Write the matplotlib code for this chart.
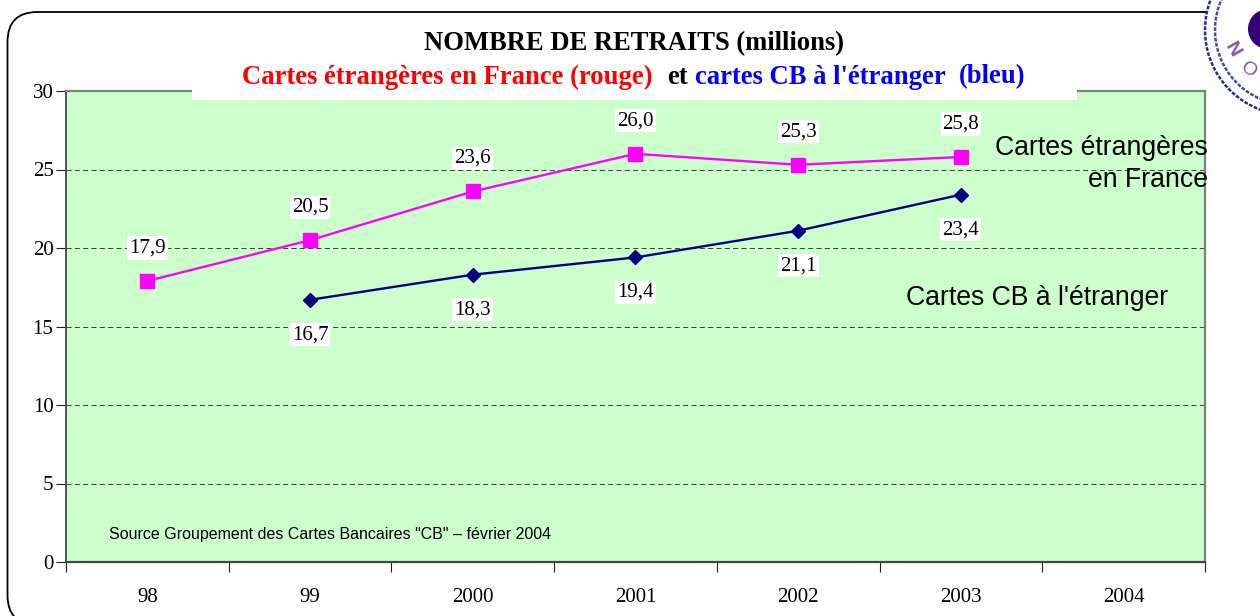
import matplotlib
matplotlib.use('Agg')
import matplotlib.pyplot as plt
from matplotlib.patches import FancyBboxPatch, Rectangle, Arc, Circle

categories = ['98', '99', '2000', '2001', '2002', '2003', '2004']
etrangeres = [17.9, 20.5, 23.6, 26.0, 25.3, 25.8, None]
cb = [None, 16.7, 18.3, 19.4, 21.1, 23.4, None]
yticks = [0, 5, 10, 15, 20, 25, 30]
W, H = 1260, 616
SERIF = 'Liberation Serif'
SANS = 'Liberation Sans'
FS = 15

fig = plt.figure(figsize=(W/100, H/100), dpi=100, facecolor='white')
bg = fig.add_axes([0, 0, 1, 1], zorder=0)
bg.set_xlim(0, W); bg.set_ylim(H, 0); bg.axis('off')
bg.add_patch(FancyBboxPatch((7.5, 12), 1268, 613, boxstyle='round,pad=0,rounding_size=30',
                            fc='white', ec='black', lw=1.3, clip_on=True))
ax = fig.add_axes([66/W, 1-562/H, (1205-66)/W, (562-91)/H], zorder=1)
ax.set_facecolor('#CCFFCC')
ax.set_xlim(0, 7); ax.set_ylim(0, 30)
for y in yticks[1:-1]:
    ax.axhline(y, color='#222222', lw=0.6, dashes=(6, 4), zorder=1)
xs = [i + .5 for i in range(7)]
ex = [x for x, v in zip(xs, etrangeres) if v is not None]
ey = [v for v in etrangeres if v is not None]
cx = [x for x, v in zip(xs, cb) if v is not None]
cy = [v for v in cb if v is not None]
ax.plot(ex, ey, color='#FF00FF', lw=1.7, marker='s', ms=10, mec='#FF00FF', zorder=3, clip_on=False)
ax.plot(cx, cy, color='#000080', lw=1.7, marker='D', ms=7.5, mec='#000080', zorder=3, clip_on=False)
box = dict(fc='white', ec='none', pad=1.5)
for x, v in zip(ex, ey):
    ax.annotate(f'{v:.1f}'.replace('.', ','), (x, v), xytext=(0, 33), textcoords='offset pixels',
                ha='center', va='center', family=SERIF, fontsize=FS, color='black', bbox=box, zorder=4)
for x, v in zip(cx, cy):
    ax.annotate(f'{v:.1f}'.replace('.', ','), (x, v), xytext=(0, -35), textcoords='offset pixels',
                ha='center', va='center', family=SERIF, fontsize=FS, color='black', bbox=box, zorder=4)
ax.set_xticks(range(8)); ax.set_xticklabels([])
ax.set_yticks(yticks)
ax.set_yticklabels([str(v) for v in yticks], family=SERIF, fontsize=FS, color='black')
ax.tick_params(axis='y', length=7, width=0.8, color='#222222', pad=2, direction='out')
ax.tick_params(axis='x', length=7, width=0.8, color='#222222', pad=2, direction='out')
for x, c in zip(xs, categories):
    ax.annotate(c, (x, 0), xytext=(0, -35), textcoords='offset pixels', ha='center', va='center',
                family=SERIF, fontsize=FS, color='black', annotation_clip=False)
ax.spines['left'].set(color='#444444', lw=1.3)
ax.spines['bottom'].set(color='#444444', lw=1.6)
ax.spines['top'].set(color='#808080', lw=1.6)
ax.spines['right'].set(color='#808080', lw=1.6)

ov = fig.add_axes([0, 0, 1, 1], zorder=2)
ov.set_xlim(0, W); ov.set_ylim(H, 0); ov.axis('off'); ov.patch.set_alpha(0)
ov.add_patch(Rectangle((192, 86), 885, 14, fc='white', ec='none'))
ov.add_patch(Rectangle((1206, 0), 60, 90, fc='white', ec='none'))
ov.text(634, 44, 'NOMBRE DE RETRAITS (millions)', ha='center', va='center', family=SERIF,
        weight='bold', fontsize=19.2, color='black')
parts = [('Cartes étrangères en France (rouge)', 'red', 242), ('et', 'black', 667),
         ("cartes CB à l'étranger", '#0000FF', 695), ('(bleu)', '#0000FF', 959)]
for s, c, x in parts:
    ov.text(x, 77, s, ha='left', va='center', family=SERIF, weight='bold', fontsize=19.2, color=c)
ov.text(1208, 148, 'Cartes étrangères', ha='right', va='center', family=SANS, fontsize=19.2, color='black')
ov.text(1208, 180, 'en France', ha='right', va='center', family=SANS, fontsize=19.2, color='black')
ov.text(906, 298, "Cartes CB à l'étranger", ha='left', va='center', family=SANS, fontsize=19.2, color='black')
ov.text(109, 534, 'Source Groupement des Cartes Bancaires "CB" – février 2004', ha='left', va='center',
        family=SANS, fontsize=11.5, color='black')
# tampon (décor)
for r, c in ((85, '#2A2A8A'), (75, '#4A4AA0')):
    ov.add_patch(Arc((1290, 30), 2*r, 2*r, theta1=95, theta2=245, ec=c, lw=1.8, ls=(0, (1.5, .6))))
ov.add_patch(Circle((1268, 29), 20, fc='#330077', ec='none'))
ov.text(1232, 50, 'N', rotation=-60, ha='center', va='center', family=SANS, fontsize=14, weight='bold', color='#7A5AA8')
ov.text(1248, 70, 'O', rotation=-35, ha='center', va='center', family=SANS, fontsize=14, color='#7A5AA8')
fig.savefig('out.png', dpi=100)
